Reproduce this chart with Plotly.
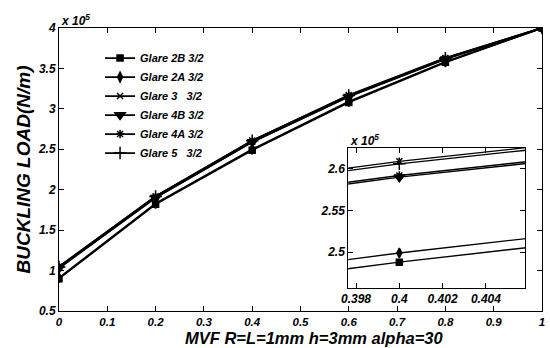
import plotly.graph_objects as go

# MVF values and buckling load (units of 1e5 N/m) for each laminate
mvf = [0.0, 0.2, 0.4, 0.6, 0.8, 1.0]
glare_2b = [0.900, 1.820, 2.488, 3.080, 3.575, 4.000]
glare_2a = [0.910, 1.830, 2.499, 3.090, 3.580, 4.000]
glare_3 = [1.050, 1.920, 2.609, 3.170, 3.630, 4.000]
glare_4b = [1.030, 1.900, 2.590, 3.150, 3.615, 4.000]
glare_4a = [1.035, 1.905, 2.592, 3.155, 3.620, 4.000]
glare_5 = [1.045, 1.915, 2.606, 3.165, 3.625, 4.000]

names = ["Glare 2B 3/2", "Glare 2A 3/2", "Glare 3   3/2",
         "Glare 4B 3/2", "Glare 4A 3/2", "Glare 5   3/2"]
series = [glare_2b, glare_2a, glare_3, glare_4b, glare_4a, glare_5]
symbols = ["square", "diamond-tall", "x-thin", "triangle-down", "asterisk-open", "cross-thin"]
sizes = [6, 7, 6, 9, 7, 9]

x_ticks = [0, 0.1, 0.2, 0.3, 0.4, 0.5, 0.6, 0.7, 0.8, 0.9, 1]
y_ticks = [0.5, 1, 1.5, 2, 2.5, 3, 3.5, 4]
inset_x_ticks = [0.398, 0.4, 0.402, 0.404]
inset_y_ticks = [2.5, 2.55, 2.6]

FONT = "Liberation Sans, Arial, sans-serif"


def bold_italic(size):
    return dict(family=FONT, size=size, color="black", weight="bold", style="italic")


fig = go.Figure()

for name, ys, sym, sz in zip(names, series, symbols, sizes):
    mk = dict(symbol=sym, size=sz, color="black", line=dict(color="black", width=1.5))
    fig.add_trace(go.Scatter(x=mvf, y=ys, name=name, mode="lines+markers",
                             line=dict(color="black", width=1.8), marker=mk,
                             xaxis="x", yaxis="y"))
    fig.add_trace(go.Scatter(x=mvf, y=ys, name=name, mode="lines+markers",
                             line=dict(color="black", width=1.4), marker=mk,
                             xaxis="x2", yaxis="y2", showlegend=False))

axis_common = dict(showline=True, linecolor="black", linewidth=1, mirror="ticks",
                   ticks="inside", ticklen=5, tickcolor="black", showgrid=False,
                   zeroline=False)

fig.update_layout(
    width=550, height=348,
    margin=dict(l=59, r=5, t=28, b=37),
    paper_bgcolor="white", plot_bgcolor="white",
    showlegend=True,
    legend=dict(x=0.085, y=0.945, xanchor="left", yanchor="top",
                bgcolor="rgba(0,0,0,0)", borderwidth=0, tracegroupgap=0,
                itemwidth=30, font=bold_italic(11)),
    xaxis=dict(range=[0, 1], tickvals=x_ticks, ticktext=[f"{v:g}" for v in x_ticks],
               domain=[0, 1], tickfont=bold_italic(11.5), **axis_common),
    yaxis=dict(range=[0.5, 4], tickvals=y_ticks, ticktext=[f"{v:g}" for v in y_ticks],
               domain=[0, 1], tickfont=bold_italic(12),
               title=dict(text="BUCKLING LOAD(N/m)", standoff=2, font=bold_italic(19)),
               **axis_common),
    xaxis2=dict(range=[0.39764, 0.40581], tickvals=inset_x_ticks,
                ticktext=[f"{v:g}" for v in inset_x_ticks],
                domain=[0.5988, 0.965], anchor="y2", tickfont=bold_italic(12),
                **axis_common),
    yaxis2=dict(range=[2.457, 2.625], tickvals=inset_y_ticks,
                ticktext=[f"{v:g}" for v in inset_y_ticks],
                domain=[0.0813, 0.576], anchor="x2", tickfont=bold_italic(12),
                **axis_common),
    shapes=[dict(type="rect", xref="x2 domain", yref="y2 domain", x0=0, x1=1, y0=0, y1=1,
                 fillcolor="white", line=dict(width=0), layer="below")],
    annotations=[
        # x-axis title, placed below the tick labels
        dict(text="MVF R=L=1mm h=3mm alpha=30", xref="paper", yref="paper",
             x=0.529, y=0, xanchor="center", yanchor="bottom", yshift=-37.5,
             showarrow=False, font=bold_italic(16.5)),
        dict(text="x 10<sup>5</sup>", xref="paper", yref="paper", x=0.0, y=1.0,
             xanchor="left", yanchor="bottom", showarrow=False, yshift=-2,
             font=bold_italic(12)),
        dict(text="x 10<sup>5</sup>", xref="x2 domain", yref="y2 domain", x=0.0, y=1.0,
             xanchor="left", yanchor="bottom", showarrow=False, yshift=-2,
             font=bold_italic(12)),
    ],
)

fig.write_html("out.html")
